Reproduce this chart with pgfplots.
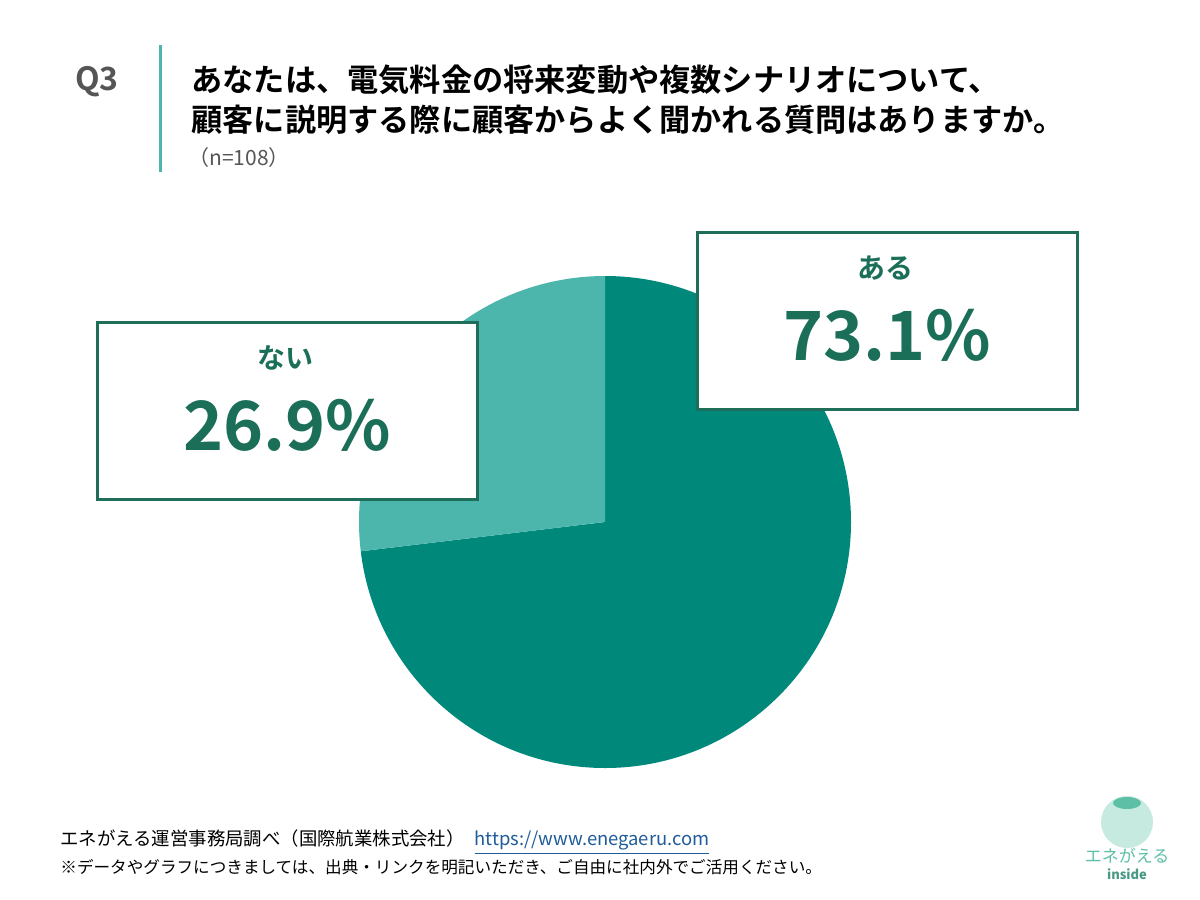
\documentclass[border=0pt]{standalone}
\usepackage{fontspec}
\setmainfont{Noto Sans CJK JP}[BoldFont={Noto Sans CJK JP Bold}]
\usepackage{pgfplots}
\pgfplotsset{compat=1.18}
\definecolor{dark}{HTML}{00897B}
\definecolor{light}{HTML}{4DB6AC}
\definecolor{boxc}{HTML}{1E6E5A}
\definecolor{numc}{HTML}{1B6E58}
\definecolor{qc}{HTML}{555555}
\definecolor{urlc}{HTML}{1F5C99}
\definecolor{logoc}{HTML}{5DBFA6}
\begin{document}
\begin{tikzpicture}
% survey shares (percent)
\pgfmathsetmacro\aru{73.1}
\pgfmathsetmacro\nai{26.9}
\pgfmathsetmacro\split{90-3.6*\aru}
\pgfmathsetmacro\stop{\split-3.6*\nai}
\begin{axis}[width=600pt,height=450pt,scale only axis,
  xmin=0,xmax=1200,ymin=0,ymax=900,y dir=reverse,hide axis,clip=false]
\addplot[draw=none] coordinates {(0,0) (1200,900)};
\fill[white] (axis cs:0,0) rectangle (axis cs:1200,900);
% header
\node[font=\bfseries\fontsize{16}{16}\selectfont,text=qc] at (axis cs:97,82) {Q3};
\draw[light,line width=1.5pt] (axis cs:160,45) -- (axis cs:160,172);
\node[anchor=west,font=\bfseries\fontsize{15.6}{20}\selectfont,align=left,inner sep=0pt] at (axis cs:191,80) {あなたは、電気料金の将来変動や複数シナリオについて、};
\node[anchor=west,font=\bfseries\fontsize{15.6}{20}\selectfont,align=left,inner sep=0pt] at (axis cs:191,120) {顧客に説明する際に顧客からよく聞かれる質問はありますか。};
\node[anchor=west,font=\fontsize{10.5}{12}\selectfont,text=qc,inner sep=0pt] at (axis cs:188,158) {（n=108）};
% pie
\fill[dark] (axis cs:605,522) -- (axis cs:605,276) arc[start angle=90,end angle=\split,radius=123pt] -- cycle;
\fill[light] (axis cs:605,522) -- ++(\split:123pt) arc[start angle=\split,end angle=\stop,radius=123pt] -- cycle;
% label boxes
\draw[boxc,fill=white,line width=1.5pt] (axis cs:97,322) rectangle (axis cs:477,499);
\node[text=numc,font=\bfseries\fontsize{14}{14}\selectfont] at (axis cs:285,358) {ない};
\node[text=numc,font=\bfseries\fontsize{34}{34}\selectfont] at (axis cs:287,425) {26.9\%};
\draw[boxc,fill=white,line width=1.5pt] (axis cs:697,232) rectangle (axis cs:1077,409);
\node[text=numc,font=\bfseries\fontsize{14}{14}\selectfont] at (axis cs:885,268) {ある};
\node[text=numc,font=\bfseries\fontsize{34}{34}\selectfont] at (axis cs:887,335) {73.1\%};
% footer
\node[anchor=west,inner sep=0pt,font=\fontsize{9.2}{10}\selectfont] at (axis cs:60,842) {エネがえる運営事務局調べ（国際航業株式会社）\hspace{5pt}\textcolor{urlc}{\underline{https://www.enegaeru.com}}};
\node[anchor=west,inner sep=0pt,font=\fontsize{8.3}{10}\selectfont] at (axis cs:60,867) {※データやグラフにつきましては、出典・リンクを明記いただき、ご自由に社内外でご活用ください。};
% logo
\fill[logoc!35] (axis cs:1127,822) circle[radius=13pt];
\fill[logoc] (axis cs:1127,803) ellipse[x radius=7pt,y radius=3pt];
\node[text=logoc,font=\fontsize{8.5}{9}\selectfont] at (axis cs:1127,856) {エネがえる};
\node[text=logoc!80!black,font=\bfseries\itshape\fontsize{6.5}{7}\selectfont] at (axis cs:1127,874) {inside};
\end{axis}
\end{tikzpicture}
\end{document}
